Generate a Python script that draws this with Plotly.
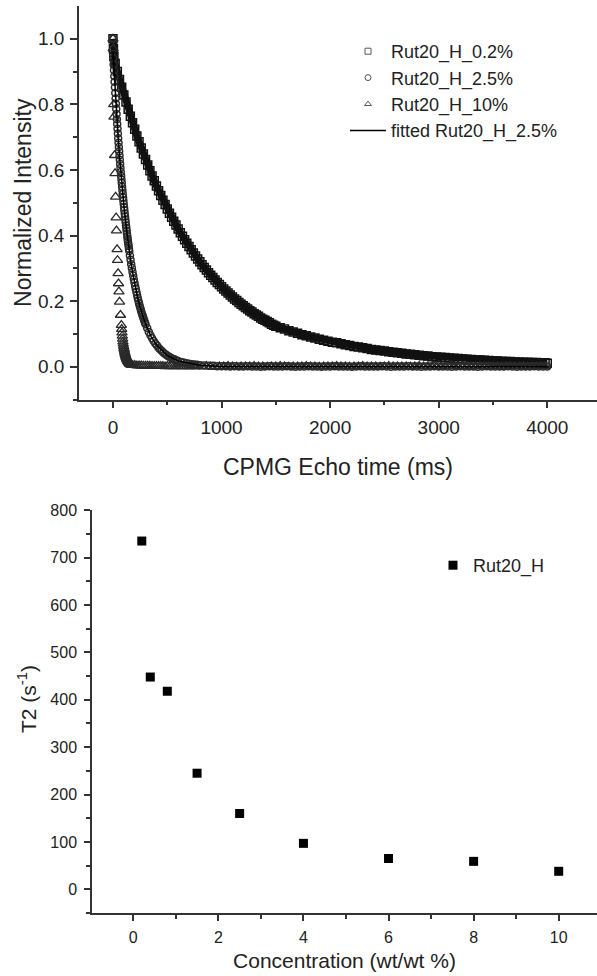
import plotly.graph_objects as go

# ---------------- top panel: CPMG decays (normalized intensity vs echo time, ms) ----------------
# Rut20_H_0.2%  (open squares)
t_sq = [0, 4, 8] + list(range(20, 1501, 20)) + list(range(1540, 3981, 40)) + [4000]
I_sq = [1.0, 0.97, 0.945,
        0.925, 0.900, 0.876, 0.852, 0.829, 0.807, 0.785, 0.764, 0.744, 0.724,
        0.704, 0.686, 0.667, 0.649, 0.632, 0.615, 0.598, 0.582, 0.567, 0.551,
        0.537, 0.522, 0.508, 0.495, 0.481, 0.468, 0.456, 0.444, 0.432, 0.420,
        0.409, 0.398, 0.387, 0.377, 0.367, 0.357, 0.347, 0.338, 0.329, 0.320,
        0.311, 0.303, 0.295, 0.287, 0.279, 0.272, 0.265, 0.257, 0.251, 0.244,
        0.237, 0.231, 0.225, 0.219, 0.213, 0.207, 0.202, 0.196, 0.191, 0.186,
        0.181, 0.176, 0.171, 0.167, 0.162, 0.158, 0.154, 0.149, 0.145, 0.142,
        0.138, 0.134, 0.130, 0.127, 0.124,
        0.119, 0.115, 0.110, 0.106, 0.102, 0.098, 0.095, 0.091, 0.088, 0.084,
        0.081, 0.078, 0.075, 0.073, 0.070, 0.067, 0.065, 0.062, 0.060, 0.058,
        0.056, 0.053, 0.051, 0.050, 0.048, 0.046, 0.044, 0.043, 0.041, 0.039,
        0.038, 0.037, 0.035, 0.034, 0.033, 0.031, 0.030, 0.029, 0.028, 0.027,
        0.026, 0.025, 0.024, 0.023, 0.022, 0.021, 0.021, 0.020, 0.019, 0.018,
        0.018, 0.017, 0.016, 0.016, 0.015, 0.015, 0.014, 0.014, 0.013, 0.013, 0.012, 0.012,
        0.011]

# Rut20_H_2.5%  (open circles)
t_ci = ([0] + list(range(3, 151, 3)) + list(range(156, 301, 6)) + list(range(315, 601, 15))
        + list(range(625, 801, 25)) + list(range(840, 4001, 40)))
I_ci = [1.0,
        0.941, 0.922, 0.904, 0.886, 0.869, 0.852, 0.835, 0.818, 0.802, 0.786,
        0.771, 0.755, 0.740, 0.726, 0.711, 0.697, 0.683, 0.670, 0.657, 0.644,
        0.631, 0.618, 0.606, 0.594, 0.582, 0.571, 0.560, 0.549, 0.538, 0.527,
        0.516, 0.506, 0.496, 0.486, 0.477, 0.467, 0.458, 0.449, 0.440, 0.431,
        0.423, 0.415, 0.406, 0.398, 0.390, 0.383, 0.375, 0.368, 0.360, 0.353,
        0.339, 0.326, 0.313, 0.301, 0.289, 0.278, 0.267, 0.257, 0.246, 0.237,
        0.228, 0.219, 0.210, 0.202, 0.194, 0.186, 0.179, 0.172, 0.165, 0.159,
        0.153, 0.147, 0.141, 0.135, 0.130,
        0.118, 0.106, 0.096, 0.087, 0.079, 0.071, 0.065, 0.058, 0.053, 0.048,
        0.043, 0.039, 0.035, 0.032, 0.029, 0.026, 0.024, 0.022, 0.019, 0.018,
        0.015, 0.013, 0.011, 0.009, 0.008, 0.007, 0.006, 0.005,
        0.004, 0.003, 0.003, 0.002, 0.002, 0.002, 0.001, 0.002, 0.001, 0.001,
        0.002, 0.001, 0.001, 0.000, 0.001, 0.002, 0.001, 0.001, 0.001, 0.002,
        0.001, 0.000, 0.001, 0.001, 0.002, 0.001, 0.001, 0.000, 0.001, 0.001,
        0.002, 0.001, 0.001, 0.001, 0.000, 0.001, 0.002, 0.001, 0.001, 0.001,
        0.001, 0.002, 0.001, 0.000, 0.001, 0.001, 0.001, 0.002, 0.001, 0.001,
        0.000, 0.001, 0.001, 0.002, 0.001, 0.001, 0.001, 0.000, 0.001, 0.002,
        0.001, 0.001, 0.001, 0.000, 0.001, 0.002, 0.001, 0.001, 0.001, 0.001,
        0.002, 0.001, 0.000, 0.001, 0.001, 0.001, 0.002, 0.001, 0.001, 0.001]

# Rut20_H_10%  (open triangles)
t_tr = ([0, 2, 7, 9, 15, 19, 24, 29, 32, 38, 42, 47, 51, 55, 60, 69, 77]
        + list(range(80, 171, 3)) + list(range(180, 781, 20)) + list(range(820, 4001, 40)))
I_tr = [1.0, 0.97, 0.80, 0.762, 0.645, 0.59, 0.518, 0.455, 0.415, 0.358, 0.325,
        0.285, 0.254, 0.229, 0.198, 0.158, 0.127,
        0.115, 0.104, 0.094, 0.085, 0.077, 0.070, 0.063, 0.057, 0.052, 0.047,
        0.042, 0.038, 0.035, 0.031, 0.028, 0.026, 0.023, 0.021, 0.019, 0.017,
        0.016, 0.014, 0.013, 0.011, 0.010, 0.009, 0.008, 0.008, 0.007, 0.006,
        0.006,
        0.005, 0.005, 0.004, 0.004, 0.004, 0.003, 0.003, 0.003, 0.003, 0.002,
        0.002, 0.002, 0.002, 0.002, 0.002, 0.001, 0.002, 0.001, 0.002, 0.001,
        0.001, 0.002, 0.001, 0.001, 0.002, 0.001, 0.001, 0.001, 0.002, 0.001,
        0.001,
        0.001, 0.002, 0.001, 0.000, 0.001, 0.001, 0.002, 0.001, 0.000, 0.001,
        0.001, 0.001, 0.002, 0.001, 0.001, 0.000, 0.001, 0.001, 0.002, 0.001,
        0.000, 0.001, 0.001, 0.001, 0.002, 0.001, 0.001, 0.000, 0.001, 0.001,
        0.001, 0.002, 0.001, 0.001, 0.000, 0.001, 0.001, 0.002, 0.001, 0.001,
        0.001, 0.000, 0.001, 0.002, 0.001, 0.001, 0.001, 0.001, 0.000, 0.001,
        0.002, 0.001, 0.001, 0.001, 0.000, 0.001, 0.001, 0.002, 0.001, 0.001,
        0.001, 0.001, 0.000, 0.001, 0.002, 0.001, 0.001, 0.001, 0.001, 0.000,
        0.001, 0.002, 0.001, 0.001, 0.001, 0.000, 0.001, 0.001, 0.002, 0.001]

# fitted Rut20_H_2.5%
t_fit = [0, 10, 20, 30, 40, 50, 60, 70, 80, 90, 100, 120, 140, 160, 180, 200,
         225, 250, 300, 350, 400, 500, 600, 800, 1000, 4000]
I_fit = [0.96, 0.898, 0.840, 0.786, 0.735, 0.688, 0.644, 0.602, 0.563, 0.527,
         0.493, 0.431, 0.377, 0.330, 0.289, 0.253, 0.214, 0.181, 0.130, 0.093,
         0.067, 0.034, 0.018, 0.005, 0.001, 0.0]

series_names = ["Rut20_H_0.2%", "Rut20_H_2.5%", "Rut20_H_10%", "fitted Rut20_H_2.5%"]

# ---------------- bottom panel: T2 vs concentration ----------------
conc = [0.2, 0.4, 0.8, 1.5, 2.5, 4, 6, 8, 10]
t2 = [735, 448, 418, 245, 160, 97, 65, 59, 38]
bottom_name = "Rut20_H"

x_top_ticks = [0, 1000, 2000, 3000, 4000]
y_top_ticks = [0.0, 0.2, 0.4, 0.6, 0.8, 1.0]
x_bot_ticks = [0, 2, 4, 6, 8, 10]
y_bot_ticks = [0, 100, 200, 300, 400, 500, 600, 700, 800]

W, H = 597, 976
FONT = 'Arial, "Liberation Sans", sans-serif'
AX = "#333333"
TXT = "#222222"

fig = go.Figure()

# data traces (top)
fig.add_trace(go.Scatter(x=t_sq, y=I_sq, mode="lines+markers", showlegend=False,
                         line=dict(color="#111111", width=7),
                         marker=dict(symbol="square-open", size=8, color="#111111",
                                     line=dict(width=1.5)),
                         xaxis="x", yaxis="y"))
fig.add_trace(go.Scatter(x=t_tr, y=I_tr, mode="markers", showlegend=False,
                         marker=dict(symbol="triangle-up-open", size=9, color="#2a2a2a",
                                     line=dict(width=1.3)),
                         xaxis="x", yaxis="y"))
fig.add_trace(go.Scatter(x=t_ci, y=I_ci, mode="markers", showlegend=False,
                         marker=dict(symbol="circle-open", size=7, color="#2a2a2a",
                                     line=dict(width=1.5)),
                         xaxis="x", yaxis="y"))
fig.add_trace(go.Scatter(x=t_fit, y=I_fit, mode="lines", showlegend=False,
                         line=dict(color="black", width=1.5),
                         xaxis="x", yaxis="y"))

# legend entries (top)
leg_symbols = ["square-open", "circle-open", "triangle-up-open"]
for name, sym in zip(series_names[:3], leg_symbols):
    fig.add_trace(go.Scatter(x=[None], y=[None], mode="markers", name=name,
                             marker=dict(symbol=sym, size=6, color="#555555",
                                         line=dict(width=1)),
                             xaxis="x", yaxis="y", legend="legend"))
fig.add_trace(go.Scatter(x=[None], y=[None], mode="lines", name=series_names[3],
                         line=dict(color="black", width=1.5),
                         xaxis="x", yaxis="y", legend="legend"))

# bottom panel
fig.add_trace(go.Scatter(x=conc, y=t2, mode="markers", name=bottom_name,
                         marker=dict(symbol="square", size=9, color="black"),
                         xaxis="x2", yaxis="y2", legend="legend2"))

common = dict(showline=True, linecolor=AX, linewidth=1.5, ticks="outside",
              tickcolor=AX, tickwidth=1.5, showgrid=False, zeroline=False,
              automargin=False)

fig.update_layout(
    width=W, height=H, margin=dict(l=0, r=0, t=0, b=0),
    plot_bgcolor="white", paper_bgcolor="white",
    font=dict(family=FONT, color=TXT),
    xaxis=dict(domain=[79 / W, 1], anchor="y", range=[-313, 4458],
               tickvals=x_top_ticks, ticklen=7, tickfont=dict(size=19),
               minor=dict(tickvals=[500, 1500, 2500, 3500], ticks="outside", ticklen=4,
                          tickwidth=1.5, tickcolor=AX),
               ticklabelstandoff=3,
               title=dict(text="CPMG Echo time (ms)", font=dict(size=23), standoff=22),
               **common),
    yaxis=dict(domain=[1 - 399.6 / H, 1 - 6 / H], anchor="x", range=[-0.1, 1.1],
               tickvals=y_top_ticks, ticktext=[f"{v:.1f}" for v in y_top_ticks],
               ticklen=7, tickfont=dict(size=19),
               minor=dict(tickvals=[-0.1, 0.1, 0.3, 0.5, 0.7, 0.9], ticks="outside",
                          ticklen=4, tickwidth=1.5, tickcolor=AX),
               ticklabelstandoff=2,
               title=dict(text="Normalized Intensity", font=dict(size=23), standoff=0),
               **common),
    xaxis2=dict(domain=[92 / W, 1], anchor="y2", range=[-0.97, 10.9],
                tickvals=x_bot_ticks, ticklen=6, tickfont=dict(size=16),
                minor=dict(tickvals=[1, 3, 5, 7, 9], ticks="outside", ticklen=4,
                           tickwidth=1.5, tickcolor=AX),
                ticklabelstandoff=3,
                title=dict(text="Concentration (wt/wt %)", font=dict(size=21), standoff=8),
                **common),
    yaxis2=dict(domain=[1 - 913 / H, 1 - 510 / H], anchor="x2", range=[-50, 800.5],
                tickvals=y_bot_ticks, ticklen=6, tickfont=dict(size=16),
                minor=dict(tickvals=[-50, 50, 150, 250, 350, 450, 550, 650, 750],
                           ticks="outside", ticklen=4, tickwidth=1.5, tickcolor=AX),
                ticklabelstandoff=4,
                **common),
    annotations=[dict(text="T2 (s<sup>-1</sup>)", xref="paper", yref="paper",
                      x=27 / W, y=1 - 699 / H, xanchor="center", yanchor="middle",
                      textangle=-90, showarrow=False, font=dict(size=21, color=TXT))],
    legend=dict(x=345 / W, y=1 - 33 / H, xanchor="left", yanchor="top",
                bgcolor="rgba(0,0,0,0)", font=dict(size=18, color=TXT),
                traceorder="normal", itemwidth=36),
    legend2=dict(x=433 / W, y=1 - 547 / H, xanchor="left", yanchor="top",
                 bgcolor="rgba(0,0,0,0)", font=dict(size=18, color=TXT)),
)

fig.write_html("out.html", config={"displayModeBar": False},
               post_script="document.body.style.margin='0';document.body.style.overflow='hidden';")
